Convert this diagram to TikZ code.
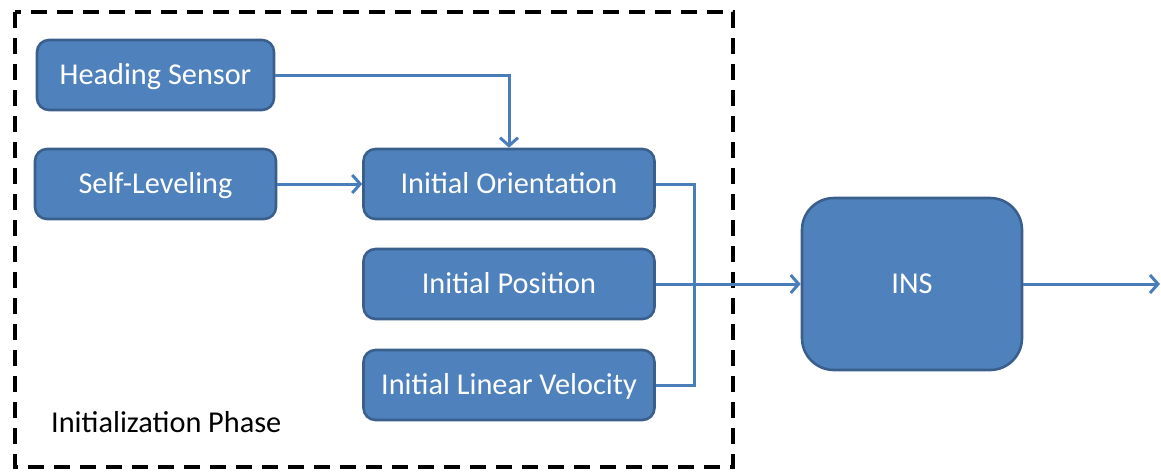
\documentclass[tikz,border=0pt]{standalone}
\usepackage{fontspec}
\setmainfont{Carlito}
\usetikzlibrary{arrows.meta}
\definecolor{boxfill}{HTML}{4F81BD}
\definecolor{boxline}{HTML}{3A5F8C}
\definecolor{conn}{HTML}{4A7EBB}
\begin{document}
\begin{tikzpicture}[x=1pt,y=-1pt,
  blockbox/.style={draw=boxline, line width=2.6pt, fill=boxfill, rounded corners=12pt,
    text=white, font=\fontsize{30.3}{34}\selectfont, inner sep=0pt, minimum height=70pt,
    text height=19pt, text depth=0pt},
  link/.style={draw=conn, line width=3pt},
  tip/.style={-{Straight Barb[length=8pt,width=18pt,line width=3pt]}}
]
\useasboundingbox (0,0) rectangle (1161,471);
\draw[black, line width=3.2pt, dash pattern=on 16pt off 10pt] (15,12) rectangle (733,467);
\node[blockbox, minimum width=237pt] (hs) at (155.5,75) {Heading Sensor};
\node[blockbox, minimum width=241pt] (sl) at (155.5,184) {Self-Leveling};
\node[blockbox, minimum width=291pt] (io) at (509,184) {Initial Orientation};
\node[blockbox, minimum width=291pt] (ip) at (509,284) {Initial Position};
\node[blockbox, minimum width=291pt] (iv) at (509,385) {Initial Linear Velocity};
\node[blockbox, minimum width=220pt, minimum height=172pt, rounded corners=32pt] (ins) at (912,284) {INS};
\node[anchor=base west, inner sep=0pt, font=\fontsize{30.3}{34}\selectfont] (lbl) at (51,432) {Initialization Phase};
\coordinate (bus) at (694,284);
\coordinate (out) at (1160,284);
\draw[link, tip] (hs.east) -| (io.north);
\draw[link, tip] (sl.east) -- (io.west);
\draw[link] (io.east) -| (bus);
\draw[link] (iv.east) -| (bus);
\draw[link, tip] (ip.east) -- (ins.west);
\draw[link, tip] (ins.east) -- (out);
\end{tikzpicture}
\end{document}
